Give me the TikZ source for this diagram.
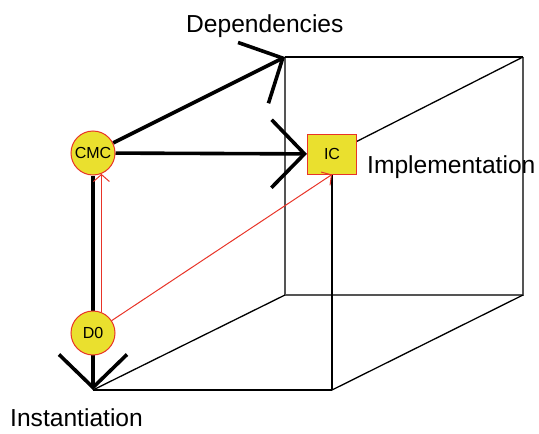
\documentclass[tikz,border=0pt]{standalone}
\usepackage{fontspec}
\setmainfont{Liberation Sans}
\usetikzlibrary{arrows.meta}
\definecolor{nodefill}{RGB}{234,224,46}
\definecolor{nodered}{RGB}{232,52,40}
\definecolor{edgegray}{RGB}{85,85,85}
\pgfdeclarelayer{bg}
\pgfsetlayers{bg,main}
\tikzset{
  cnode/.style={circle,draw=nodered,fill=nodefill,line width=1pt,minimum size=44pt,inner sep=0pt,font=\fontsize{16}{18}\selectfont},
  bnode/.style={rectangle,draw=nodered,fill=nodefill,line width=1pt,minimum width=49pt,minimum height=40pt,inner sep=0pt,font=\fontsize{16}{18}\selectfont},
  axis/.style={line width=3.6pt,-{Straight Barb[length=33pt,width=68pt,line width=3.6pt]}},
  thinedge/.style={line width=1.3pt,black},
  backedge/.style={line width=1.8pt,edgegray},
  redarrow/.style={line width=1pt,nodered,-{Straight Barb[length=7pt,width=16pt,line width=1pt]}},
  lbl/.style={font=\fontsize{24.6}{28}\selectfont,inner sep=0pt}
}
\begin{document}
\begin{tikzpicture}[x=1pt,y=-1pt]
\useasboundingbox (0,0) rectangle (539,434);
% cube corners
\coordinate (A) at (93,390);
\coordinate (B) at (332,390);
\coordinate (C) at (285,295);
\coordinate (D) at (523,295);
\coordinate (E) at (285,57);
\coordinate (F) at (523,57);
% nodes
\node[cnode] (CMC) at (93,153) {CMC};
\node[cnode] (D0) at (93,333) {D0};
\node[bnode] (IC) at (332,154) {IC};
% labels
\node[lbl,anchor=base west] (dep) at (186,32) {Dependencies};
\node[lbl,anchor=base west] (impl) at (367,173) {Implementation};
\node[lbl,anchor=base west] (inst) at (10,426) {Instantiation};
\begin{pgfonlayer}{bg}
  % back edges
  \draw[backedge] (E) -- (C) -- (D) -- (F);
  \draw[thinedge] (E) -- (F);
  \draw[thinedge] (A) -- (C);
  \draw[thinedge] (B) -- (D);
  \draw[thinedge] (A) -- (B);
  \draw[thinedge] (B) -- (IC.center);
  \draw[thinedge] (IC.center) -- (F);
  % axes
  \draw[axis] (CMC) -- (E);
  \draw[axis] (CMC) -- (IC);
  \draw[axis] (CMC) -- (A);
\end{pgfonlayer}
% red arrows
\draw[redarrow] (D0.68) -- (CMC.-68);
\draw[redarrow] (D0) -- (IC.south);
\end{tikzpicture}
\end{document}
